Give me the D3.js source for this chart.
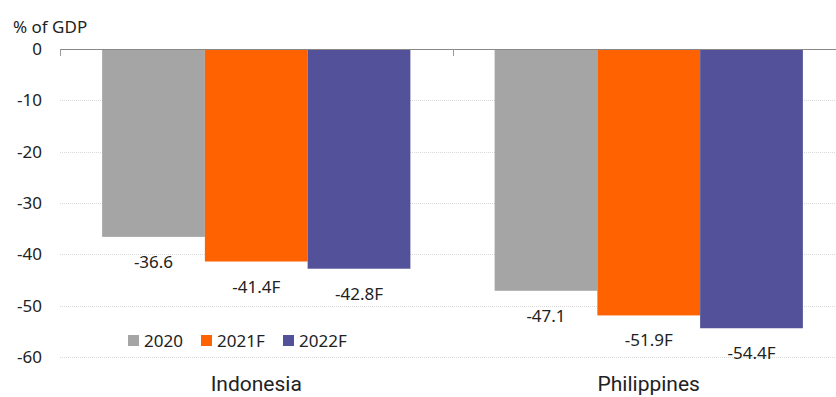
<!DOCTYPE html>
<html><head><meta charset="utf-8">
<script src="https://cdn.jsdelivr.net/npm/d3@7"></script>
<style>body{margin:0;background:#fff;overflow:hidden}svg{display:block;font-family:"Noto Sans",sans-serif}</style>
</head><body><svg id="c" width="836" height="397"></svg>
<script>
const categories = ["Indonesia", "Philippines"];
const seriesNames = ["2020", "2021F", "2022F"];
const values2020 = [-36.6, -47.1];
const values2021F = [-41.4, -51.9];
const values2022F = [-42.8, -54.4];
const labels2020 = ["-36.6", "-47.1"];
const labels2021F = ["-41.4F", "-51.9F"];
const labels2022F = ["-42.8F", "-54.4F"];
const yTicks = [0, -10, -20, -30, -40, -50, -60];
const colors = ["#a5a5a5", "#ff6200", "#525199"];

const series = [values2020, values2021F, values2022F];
const seriesLabels = [labels2020, labels2021F, labels2022F];

const svg = d3.select("#c");
const mLeft = 60, mRight = 845, mTop = 49, mBottom = 357;
const x = d3.scaleBand().domain(categories).range([mLeft, mRight]).paddingInner(0).paddingOuter(0);
const xi = d3.scaleBand().domain(seriesNames).range([0, x.bandwidth()]).paddingOuter(0.41).paddingInner(0);
const y = d3.scaleLinear().domain([0, -60]).range([mTop, mBottom]);

// gridlines
svg.append("g").selectAll("line").data(yTicks.filter(d => d !== 0)).join("line")
  .attr("x1", mLeft).attr("x2", 836).attr("y1", d => Math.round(y(d)) + 0.5).attr("y2", d => Math.round(y(d)) + 0.5)
  .attr("stroke", "#d9d9d9").attr("stroke-width", 1).attr("stroke-dasharray", "1,1");

// y tick labels
svg.append("g").selectAll("text").data(yTicks).join("text")
  .attr("x", 42).attr("y", d => y(d)).attr("dy", "0.35em").attr("text-anchor", "end")
  .attr("font-size", 17).attr("fill", "#222").text(d => d);

svg.append("text").attr("x", 13).attr("y", 33).attr("font-size", 17).attr("fill", "#222").text("% of GDP");

// bars
const g = svg.append("g");
series.forEach((vals, si) => {
  categories.forEach((c, ci) => {
    const bx = x(c) + xi(seriesNames[si]);
    g.append("rect").attr("x", bx).attr("y", y(0)).attr("width", xi.bandwidth())
      .attr("height", y(vals[ci]) - y(0)).attr("fill", colors[si]);
    g.append("text").attr("x", bx + xi.bandwidth() / 2).attr("y", y(vals[ci]) + 31)
      .attr("text-anchor", "middle").attr("font-size", 17).attr("fill", "#222")
      .text(seriesLabels[si][ci]);
  });
});

// x axis line at 0
svg.append("line").attr("x1", mLeft).attr("x2", 836).attr("y1", y(0) + 0.5).attr("y2", y(0) + 0.5)
  .attr("stroke", "#888").attr("stroke-width", 1);
// ticks at band boundaries
[mLeft, x("Philippines")].forEach(tx => {
  svg.append("line").attr("x1", Math.round(tx) + 0.5).attr("x2", Math.round(tx) + 0.5)
    .attr("y1", y(0)).attr("y2", y(0) + 7).attr("stroke", "#999").attr("stroke-width", 1);
});

// category labels
svg.append("g").selectAll("text").data(categories).join("text")
  .attr("x", d => x(d) + x.bandwidth() / 2).attr("y", 391).attr("text-anchor", "middle")
  .attr("font-family", "Roboto, 'Noto Sans', sans-serif")
  .attr("font-size", 21).attr("fill", "#222").text(d => d);

// legend
const legX = [128, 201, 283];
seriesNames.forEach((n, i) => {
  svg.append("rect").attr("x", legX[i]).attr("y", 335).attr("width", 11).attr("height", 11).attr("fill", colors[i]);
  svg.append("text").attr("x", legX[i] + 16).attr("y", 341).attr("dy", "0.35em")
    .attr("font-size", 17).attr("fill", "#222").text(n);
});
</script></body></html>
